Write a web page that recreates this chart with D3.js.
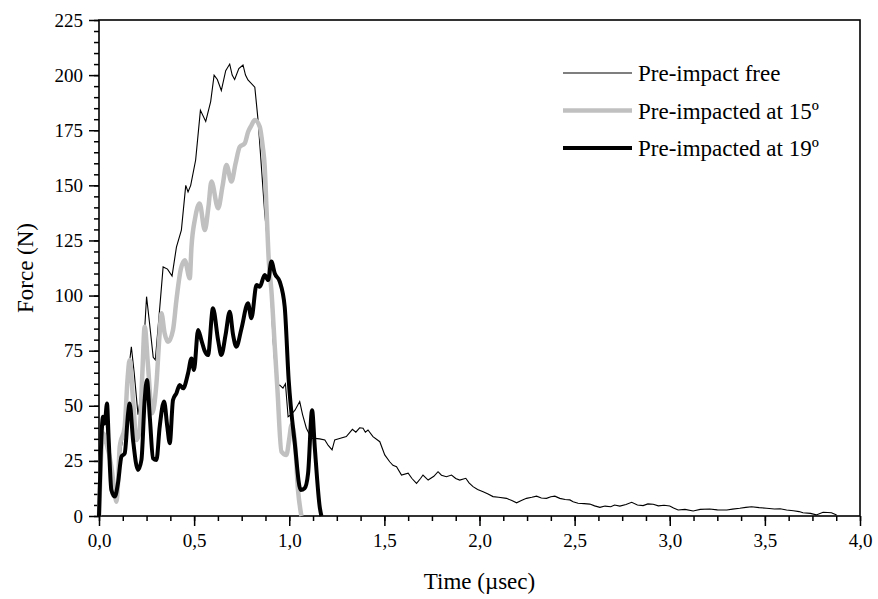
<!DOCTYPE html>
<html>
<head>
<meta charset="utf-8">
<script src="https://cdn.jsdelivr.net/npm/d3@7"></script>
<style>
  body { margin: 0; background: #fff; }
  svg { display: block; }
  text { font-family: "Liberation Serif", "Times New Roman", serif; fill: #000; }
</style>
</head>
<body>
<div id="chart"></div>
<script>
// Pre-impact free (thin black)
const freeTime = [0.000,0.010,0.020,0.035,0.050,0.065,0.080,0.095,0.115,0.135,0.150,0.170,0.185,0.205,0.220,0.250,0.265,0.285,0.296,0.315,
  0.337,0.360,0.384,0.407,0.433,0.456,0.468,0.482,0.508,0.533,0.561,0.587,0.605,0.622,0.643,0.666,0.687,0.700,0.713,0.735,0.757,
  0.770,0.783,0.819,0.836,0.871,0.894,0.915,0.933,0.950,0.967,0.980,0.994,1.010,1.030,1.055,1.070,1.090,1.117,1.134,1.160,
  1.187,1.205,1.225,1.239,1.260,1.300,1.332,1.350,1.370,1.388,1.400,1.414,1.440,1.476,1.502,1.528,1.545,1.564,1.590,1.625,
  1.645,1.669,1.690,1.703,1.730,1.760,1.782,1.800,1.826,1.853,1.875,1.896,1.928,1.945,1.966,1.990,2.019,2.045,2.071,2.100,
  2.142,2.170,2.195,2.220,2.247,2.275,2.300,2.325,2.352,2.375,2.396,2.422,2.450,2.475,2.492,2.518,2.550,2.580,2.605,2.633,
  2.660,2.690,2.710,2.738,2.770,2.800,2.830,2.860,2.885,2.913,2.940,2.970,3.000,3.020,3.044,3.080,3.123,3.160,3.210,3.250,
  3.300,3.330,3.368,3.400,3.430,3.470,3.509,3.550,3.580,3.614,3.650,3.680,3.700,3.740,3.770,3.806,3.830,3.850,3.877];
const freeForce = [0,30,40,44,30,14,8,15,30,40,62,76.8,65,46,55,99.5,88,72,70.8,90,
  113,112,108.9,122,129.7,150,147,150,161.5,184,179,188,200,198,193,202,205,200,198,203,204.6,
  200,197.8,194.5,179.6,137.4,117,80,58.7,59.4,58,60,45,46,48,51.9,46,39.8,35.2,35.2,35,
  34.5,32,30,34.5,35,36,39.3,38,40,39.8,38,39,36,33.7,27.7,24.6,23,22.4,18.6,19.4,
  17,14.8,17,18.6,16.3,18,20.1,18.5,17.8,18.6,17,16.3,17.1,15,13.3,12,11,10,8.8,8.5,
  8,7,6,7,8,8.5,9,8.2,8,8.7,9,8,7.5,7.3,6.5,5.8,5.6,5.4,4.6,3.9,
  4.5,4.2,5,4.5,5.2,6.2,5,4.7,5.5,5.3,4.6,4.9,4.5,3.6,2.7,3,2.3,3,3.2,2.8,
  2.7,3.1,3.5,3.9,4.2,3.8,3.5,3.2,3.3,2.7,2.4,2,1.5,1.2,0.5,1.7,1.6,1.5,0.4];

// Pre-impacted at 15º (grey)
const deg15Time = [0.000,0.010,0.021,0.039,0.065,0.080,0.092,0.100,0.109,0.135,0.150,0.161,0.179,0.197,0.214,0.228,0.240,0.258,0.279,0.302,
  0.318,0.328,0.345,0.363,0.389,0.407,0.430,0.451,0.477,0.486,0.505,0.529,0.556,0.575,0.591,0.626,0.650,0.670,0.696,0.718,
  0.740,0.766,0.784,0.800,0.819,0.845,0.860,0.871,0.880,0.893,0.906,0.924,0.938,0.959,0.985,1.000,1.012,1.029,1.046,1.064];
const deg15Force = [0,25,37.5,33,22.4,12,6.5,15,31.4,40.5,62,70.8,52.6,34.5,39,65,85.9,67.7,46.6,60.2,
  82,92,82.9,79,84.4,98,112,116,107.8,122,135,141.8,129.7,140,151.7,139.6,150,159.2,151.7,160,
  167.5,169,174.3,177,179.6,176.6,168,158.5,140.3,115,102.5,76.8,57.2,29.2,27.7,35,41.3,34.5,11.8,0];

// Pre-impacted at 19º (thick black)
const deg19Time = [0.000,0.010,0.021,0.030,0.042,0.051,0.065,0.083,0.100,0.118,0.135,0.153,0.161,0.179,0.205,0.223,0.240,0.252,0.267,0.284,
  0.302,0.319,0.342,0.359,0.372,0.389,0.407,0.424,0.442,0.468,0.486,0.499,0.521,0.538,0.555,0.573,0.599,0.626,0.643,0.665,
  0.687,0.705,0.722,0.749,0.783,0.801,0.828,0.845,0.871,0.889,0.906,0.924,0.950,0.976,0.997,1.029,1.060,1.081,1.099,1.120,
  1.134,1.160,1.169];
const deg19Force = [0,30,45,42,51,34.5,11.8,8.8,15,26.9,28.4,46.6,51,34.5,20.9,25.4,52.6,61.7,45,26.2,
  25.4,40.5,51.9,40.5,33,52.6,55.7,59.4,57.9,64.7,71.5,66.2,84.4,79.8,75,73,94.2,79.8,73,82,
  92.7,82,76.8,85.1,96.5,89.7,104.8,104,109.3,107,115.4,110,106.3,95,61.7,33,11.8,12.6,19.4,48,
  31.4,4.2,0];

const seriesNames = ["Pre-impact free", "Pre-impacted at 15º", "Pre-impacted at 19º"];
const yTickValues = [0,25,50,75,100,125,150,175,200,225];
const xTickValues = [0,0.5,1,1.5,2,2.5,3,3.5,4];

const W = 878, H = 599;
const margin = {left: 99, right: 18, top: 20, bottom: 83};

const svg = d3.select("#chart").append("svg")
  .attr("width", W).attr("height", H);

const x = d3.scaleLinear().domain([0, 4]).range([margin.left, W - margin.right]);
const y = d3.scaleLinear().domain([0, 225]).range([H - margin.bottom, margin.top]);

const fmt = v => d3.format(".1f")(v).replace(".", ",");

// minor ticks
svg.append("g")
  .attr("transform", `translate(0,${y(0)})`)
  .call(d3.axisBottom(x).tickValues(d3.range(0, 4.0001, 0.125)).tickSize(5).tickFormat(""))
  .call(g => g.select(".domain").remove())
  .selectAll("line").attr("stroke-width", 1.5);
svg.append("g")
  .attr("transform", `translate(${x(0)},0)`)
  .call(d3.axisLeft(y).tickValues(d3.range(0, 225.001, 5)).tickSize(5).tickFormat(""))
  .call(g => g.select(".domain").remove())
  .selectAll("line").attr("stroke-width", 1.5);

// major ticks + labels
const xAxis = svg.append("g")
  .attr("transform", `translate(0,${y(0)})`)
  .call(d3.axisBottom(x).tickValues(xTickValues).tickSize(10).tickPadding(8).tickFormat(fmt));
xAxis.select(".domain").remove();
xAxis.selectAll("line").attr("stroke-width", 1.5);
xAxis.selectAll("text").style("font-size", "19px").style("font-family", "Liberation Serif, serif");

const yAxis = svg.append("g")
  .attr("transform", `translate(${x(0)},0)`)
  .call(d3.axisLeft(y).tickValues(yTickValues).tickSize(10).tickPadding(6));
yAxis.select(".domain").remove();
yAxis.selectAll("line").attr("stroke-width", 1.5);
yAxis.selectAll("text").style("font-size", "19px").style("font-family", "Liberation Serif, serif");

// frame
svg.append("rect")
  .attr("x", x(0)).attr("y", y(225))
  .attr("width", x(4) - x(0)).attr("height", y(0) - y(225))
  .attr("fill", "none").attr("stroke", "#000").attr("stroke-width", 1.6);

// lines
const toPts = (t, f) => t.map((v, i) => [v, f[i]]);
const lineLin = d3.line().x(d => x(d[0])).y(d => y(d[1]));
const lineSmooth = d3.line().x(d => x(d[0])).y(d => y(d[1])).curve(d3.curveMonotoneX);

svg.append("path").datum(toPts(freeTime, freeForce))
  .attr("d", lineLin).attr("fill", "none").attr("stroke", "#000").attr("stroke-width", 1.1);
svg.append("path").datum(toPts(deg15Time, deg15Force))
  .attr("d", lineSmooth).attr("fill", "none").attr("stroke", "#c0c0c0").attr("stroke-width", 4.5).attr("stroke-linejoin", "round");
svg.append("path").datum(toPts(deg19Time, deg19Force))
  .attr("d", lineSmooth).attr("fill", "none").attr("stroke", "#000").attr("stroke-width", 4).attr("stroke-linejoin", "round");

// legend
const legStyles = [
  {color: "#000", width: 1.1},
  {color: "#c0c0c0", width: 4.5},
  {color: "#000", width: 4}
];
const leg = svg.append("g");
seriesNames.forEach((name, i) => {
  const ly = 73 + i * 37.5;
  leg.append("line").attr("x1", 563).attr("x2", 632).attr("y1", ly).attr("y2", ly)
    .attr("stroke", legStyles[i].color).attr("stroke-width", legStyles[i].width);
  leg.append("text").attr("x", 638).attr("y", ly).attr("dy", "0.35em")
    .style("font-size", "23px").text(name);
});

// axis titles
svg.append("text")
  .attr("x", (x(0) + x(4)) / 2).attr("y", 589)
  .attr("text-anchor", "middle").style("font-size", "23px").text("Time (µsec)");
svg.append("text")
  .attr("transform", `translate(33,${(y(0) + y(225)) / 2}) rotate(-90)`)
  .attr("text-anchor", "middle").style("font-size", "23px").text("Force (N)");
</script>
</body>
</html>
